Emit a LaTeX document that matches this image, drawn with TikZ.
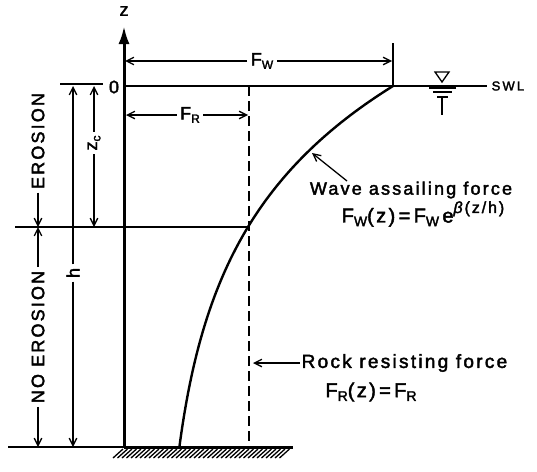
\documentclass[tikz,border=0pt]{standalone}
\usepackage{fontspec}
\setmainfont{Liberation Sans}[LetterSpace=12,FakeBold=2.2]
\usetikzlibrary{arrows.meta}

\newcommand\lowsub[1]{\raisebox{-0.35ex}{\fontsize{12}{12}\selectfont #1}}
\newcommand\bigsub[1]{\raisebox{-0.35ex}{\fontsize{14}{14}\selectfont #1}}
\newcommand\upexp[1]{\raisebox{0.9ex}{\fontsize{16}{16}\selectfont #1}}

\begin{document}
\begin{tikzpicture}[
  x=1pt,y=-1pt,
  line width=1.3pt,
  >={Straight Barb[length=7.5pt,width=7.5pt]},
  lbl/.style={font=\fontsize{18}{21}\selectfont,inner sep=1pt},
  eq/.style={font=\fontsize{20}{23}\selectfont,inner sep=1pt},
  gap/.style={lbl,fill=white,inner sep=3pt},
  small/.style={font=\fontsize{13}{15}\selectfont,inner sep=1pt},
  wall/.style={line width=3pt},
  rockline/.style={line width=1.6pt,dash pattern=on 10pt off 5pt}
]
\useasboundingbox (0,0) rectangle (537,471);

% wall and axis
\coordinate (wallB) at (124,447);
\coordinate (wallT) at (124,26);
\draw[wall,-{Latex[length=18pt,width=11pt]}] (wallB) -- (wallT);
\node[lbl] (zlab) at (124,11) {z};

% still water level
\coordinate (swlA) at (125,86);
\coordinate (swlB) at (487,86);
\draw (swlA) -- (swlB);
\node[small,anchor=west] (swl) at (490,86) {S\,W\,L};
\coordinate (extA) at (60,84);
\coordinate (extB) at (103,84);
\draw (extA) -- (extB);
\node[lbl] (zero) at (114,87) {0};
% water level mark
\draw (435,72) -- (449,72) -- (442,82) -- cycle;
\draw[line width=2.4pt] (429,88) -- (456,88);
\draw (433,92) -- (452,92);
\draw (437,97) -- (448,97);
\draw (442,97) -- (442,115);

% wave force width
\coordinate (fwL) at (125,61);
\coordinate (fwR) at (392,61);
\node[gap] (fw) at (262,61) {F\lowsub{W}};
\draw[->] (fw) -- (fwL);
\draw[->] (fw) -- (fwR);
\coordinate (tickT) at (393,43);
\coordinate (tickB) at (393,86);
\draw (tickT) -- (tickB);

% rock force width
\coordinate (frL) at (126,115);
\coordinate (frR) at (248,115);
\node[gap] (fr) at (190,115) {F\lowsub{R}};
\draw[->] (fr) -- (frL);
\draw[->] (fr) -- (frR);

% rock resisting line
\coordinate (rockT) at (249,86);
\coordinate (rockB) at (249,447);
\draw[rockline] (rockT) -- (rockB);

% erosion limit
\coordinate (limA) at (15,227);
\coordinate (limB) at (249,227);
\draw (limA) -- (limB);

% ground
\coordinate (gndA) at (8,447);
\coordinate (gndB) at (293,447);
\draw (gndA) -- (wallB);
\draw[wall] (wallB) -- (gndB);
\foreach \x in {113,117.5,...,283}
  \draw[line width=1.3pt] (\x,458) -- (\x+10,449);

% wave assailing force curve
\draw[line width=2.4pt] plot[domain=0:1,samples=80,variable=\t]
  ({160.3+232.7*exp(-2.5*\t)},{86+361*\t});

% depth dimensions
\coordinate (zcT) at (94,86);
\coordinate (zcB) at (94,227);
\node[gap,rotate=90] (zc) at (94,143) {z\lowsub{c}};
\draw[->] (zc) -- (zcT);
\draw[->] (zc) -- (zcB);
\coordinate (hT) at (73,86);
\coordinate (hB) at (73,447);
\node[gap,rotate=90] (h) at (73,273) {h};
\draw[->] (h) -- (hT);
\draw[->] (h) -- (hB);

% zones
\coordinate (eroB) at (38,227);
\coordinate (noT) at (38,227);
\coordinate (noB) at (38,447);
\node[gap,rotate=90] (ero) at (38,141) {EROSION};
\draw[->] (ero) -- (eroB);
\node[gap,rotate=90] (noero) at (38,337) {NO EROSION};
\draw[->] (noero) -- (noT);
\draw[->] (noero) -- (noB);

% labels
\node[lbl] (wave) at (411,190) {Wave assailing force};
\node[eq] (fweq) at (423,214) {F\bigsub{W}(z)\,=\,F\bigsub{W}\,e\upexp{\textit{β}(z/h)}};
\coordinate (wtail) at (347,181);
\coordinate (wtip) at (312,153);
\draw[->] (wtail) -- (wtip);
\node[lbl,font=\fontsize{19}{22}\selectfont,anchor=west] (rock) at (300,363) {Rock resisting force};
\node[eq] (freq) at (371,392) {F\bigsub{R}(z)\,=\,F\bigsub{R}};
\coordinate (rtip) at (253,363);
\draw[->] (rock) -- (rtip);
\end{tikzpicture}
\end{document}
